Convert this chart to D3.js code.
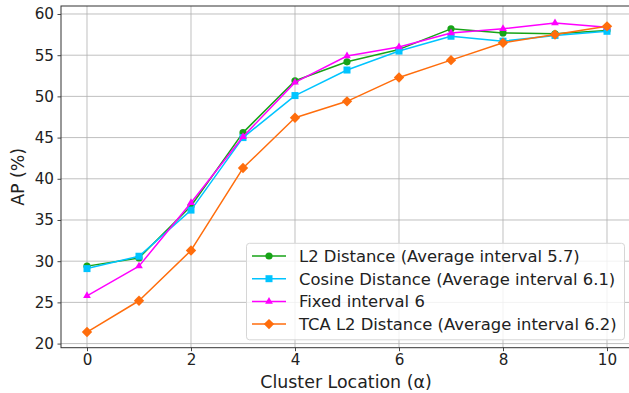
<!DOCTYPE html>
<html>
<head>
<meta charset="utf-8">
<script src="https://cdn.jsdelivr.net/npm/d3@7"></script>
<style>
  body { margin: 0; background: #fff; }
  svg { display: block; font-family: "DejaVu Sans", sans-serif; }
</style>
</head>
<body>
<script>
// cluster locations
var alphas = [0, 1, 2, 3, 4, 5, 6, 7, 8, 9, 10];

var l2Dist   = [29.4, 30.4, 36.7, 45.6, 51.9, 54.2, 55.7, 58.2, 57.7, 57.6, 58.0];
var cosDist  = [29.1, 30.6, 36.2, 45.0, 50.1, 53.2, 55.5, 57.3, 56.7, 57.4, 57.9];
var fixed6   = [25.8, 29.4, 37.1, 45.1, 51.7, 54.9, 56.0, 57.7, 58.2, 58.9, 58.4];
var tcaL2    = [21.4, 25.2, 31.3, 41.3, 47.4, 49.4, 52.3, 54.4, 56.5, 57.5, 58.5];

var seriesNames = [
  "L2 Distance (Average interval 5.7)",
  "Cosine Distance (Average interval 6.1)",
  "Fixed interval 6",
  "TCA L2 Distance (Average interval 6.2)"
];
var xTicks = [0, 2, 4, 6, 8, 10];
var yTicks = [20, 25, 30, 35, 40, 45, 50, 55, 60];

var series = [
  {name: seriesNames[0], values: l2Dist,  color: "#17a317", marker: "circle"},
  {name: seriesNames[1], values: cosDist, color: "#00c4ff", marker: "square"},
  {name: seriesNames[2], values: fixed6,  color: "#ff00ff", marker: "triangle"},
  {name: seriesNames[3], values: tcaL2,   color: "#ff6d0c", marker: "diamond"}
];

var width = 629, height = 393;
var pLeft = 61, pRight = 633, pTop = 6, pBottom = 347.7;

var svg = d3.select("body").append("svg")
  .attr("width", width).attr("height", height);

var x = d3.scaleLinear().domain([-0.5, 10.5]).range([pLeft, pRight]);
var y = d3.scaleLinear().domain([19.5, 60.97]).range([pBottom, pTop]);

// grid
svg.append("g").selectAll("line").data(xTicks).enter().append("line")
  .attr("x1", d => x(d)).attr("x2", d => x(d))
  .attr("y1", pTop).attr("y2", pBottom)
  .attr("stroke", "#b0b0b0").attr("stroke-opacity", 0.8).attr("stroke-width", 1);
svg.append("g").selectAll("line").data(yTicks).enter().append("line")
  .attr("x1", pLeft).attr("x2", pRight)
  .attr("y1", d => y(d)).attr("y2", d => y(d))
  .attr("stroke", "#b0b0b0").attr("stroke-opacity", 0.8).attr("stroke-width", 1);

// axes
var axisx = d3.axisBottom(x).tickValues(xTicks).tickSizeOuter(0).tickSize(3.5).tickPadding(3.5);
var axisy = d3.axisLeft(y).tickValues(yTicks).tickSizeOuter(0).tickSize(3.5).tickPadding(3.5);

var gx = svg.append("g").attr("transform", "translate(0," + pBottom + ")").call(axisx);
var gy = svg.append("g").attr("transform", "translate(" + pLeft + ",0)").call(axisy);
[gx, gy].forEach(function (g) {
  g.select(".domain").remove();
  g.selectAll("text").attr("font-size", "15.2px").attr("fill", "#222")
    .attr("font-family", "DejaVu Sans");
  g.selectAll("line").attr("stroke", "#333").attr("stroke-width", 0.9);
});

// frame
svg.append("rect").attr("x", pLeft).attr("y", pTop)
  .attr("width", pRight - pLeft).attr("height", pBottom - pTop)
  .attr("fill", "none").attr("stroke", "#333").attr("stroke-width", 1);

// markers
function marker(g, type, color) {
  if (type === "circle") {
    g.append("circle").attr("r", 3.6).attr("fill", color);
  } else if (type === "square") {
    g.append("rect").attr("x", -3.5).attr("y", -3.5).attr("width", 7).attr("height", 7).attr("fill", color);
  } else if (type === "triangle") {
    g.append("path").attr("d", d3.symbol(d3.symbolTriangle, 26)()).attr("fill", color);
  } else {
    g.append("path").attr("d", "M0,-5.2L5.2,0L0,5.2L-5.2,0Z").attr("fill", color);
  }
}

var line = d3.line().x((d, i) => x(alphas[i])).y(d => y(d));

series.forEach(function (s) {
  svg.append("path").datum(s.values)
    .attr("fill", "none").attr("stroke", s.color)
    .attr("stroke-width", 1.5).attr("stroke-linejoin", "round")
    .attr("d", line);
  s.values.forEach(function (v, i) {
    var g = svg.append("g").attr("transform", "translate(" + x(alphas[i]) + "," + y(v) + ")");
    marker(g, s.marker, s.color);
  });
});

// axis labels
svg.append("text").attr("x", 346).attr("y", 388)
  .attr("text-anchor", "middle").attr("font-size", "17.4px").attr("fill", "#222")
  .text("Cluster Location (α)");
svg.append("text")
  .attr("transform", "translate(24," + ((pTop + pBottom) / 2) + ") rotate(-90)")
  .attr("text-anchor", "middle").attr("font-size", "17.4px").attr("fill", "#222")
  .text("AP (%)");

// legend
var lg = svg.append("g");
lg.append("rect").attr("x", 246.5).attr("y", 243.3).attr("width", 378).attr("height", 96.5)
  .attr("rx", 3).attr("fill", "#fff").attr("fill-opacity", 0.8)
  .attr("stroke", "#d6d6d6").attr("stroke-width", 1);
series.forEach(function (s, i) {
  var yy = 256 + i * 22.7;
  lg.append("line").attr("x1", 252).attr("x2", 286).attr("y1", yy).attr("y2", yy)
    .attr("stroke", s.color).attr("stroke-width", 1.5);
  var g = lg.append("g").attr("transform", "translate(269," + yy + ")");
  marker(g, s.marker, s.color);
  lg.append("text").attr("x", 299).attr("y", yy + 5.8)
    .attr("font-size", "16.4px").attr("fill", "#222").text(s.name);
});
</script>
</body>
</html>
